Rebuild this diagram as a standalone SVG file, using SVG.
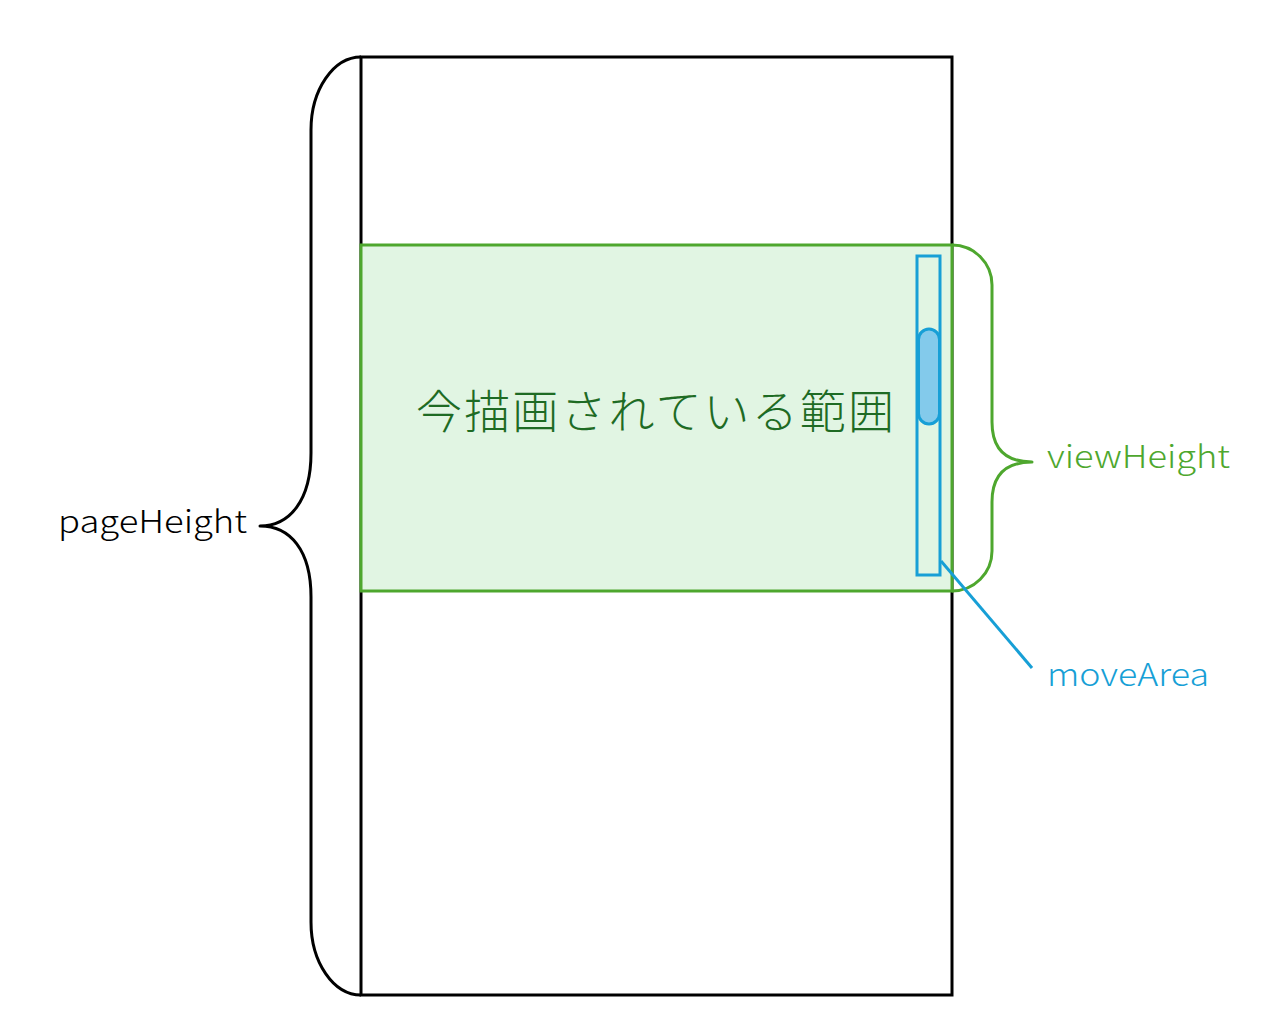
<svg xmlns="http://www.w3.org/2000/svg" width="1278" height="1029" viewBox="0 0 1278 1029">
<style>
.lbl{font-family:"Noto Sans CJK JP","Noto Sans",sans-serif;font-size:31px;font-weight:300}
.brace{fill:none;stroke-width:3;stroke-linejoin:round}
</style>
<rect width="1278" height="1029" fill="#ffffff"/>
<g id="page">
<rect x="361" y="57" width="591" height="938" fill="#ffffff" stroke="#000000" stroke-width="3"/>
</g>
<g id="view">
<rect x="361" y="245" width="591" height="346" fill="#e1f5e3" stroke="#4ea72e" stroke-width="3"/>
<text x="416" y="428" font-family="'Noto Sans CJK JP',sans-serif" font-size="46" font-weight="300" fill="#1e6b24" textLength="478" lengthAdjust="spacing">今描画されている範囲</text>
</g>
<g id="moveArea">
<rect x="917" y="256" width="23" height="319" fill="#e1f5e3" stroke="#179fd6" stroke-width="3"/>
<rect x="918.5" y="329" width="21" height="95" rx="10.5" ry="10.5" fill="#83caeb" stroke="#179fd6" stroke-width="3"/>
</g>
<g id="connectors">
<path class="brace" stroke="#000000" d="M361,57 A50,73 0 0 0 311,130 L311,453 C311,500 290,526 260,526 C290,526 311,550 311,597 L311,922 A50,73 0 0 0 361,995"/>
<path class="brace" stroke="#4ea72e" d="M952,245 A40,40 0 0 1 992,285 L992,422 C992,448 1005,462 1032,462 C1005,462 992,476 992,502 L992,551 A40,40 0 0 1 952,591"/>
<line x1="941" y1="561" x2="1032" y2="668" stroke="#179fd6" stroke-width="3"/>
</g>
<g id="labels">
<text class="lbl" x="58" y="533" fill="#000000" textLength="189" lengthAdjust="spacingAndGlyphs">pageHeight</text>
<text class="lbl" x="1047" y="468" fill="#4ea72e" textLength="183" lengthAdjust="spacingAndGlyphs">viewHeight</text>
<text class="lbl" x="1047" y="686" fill="#179fd6" textLength="162" lengthAdjust="spacingAndGlyphs">moveArea</text>
</g>
</svg>
